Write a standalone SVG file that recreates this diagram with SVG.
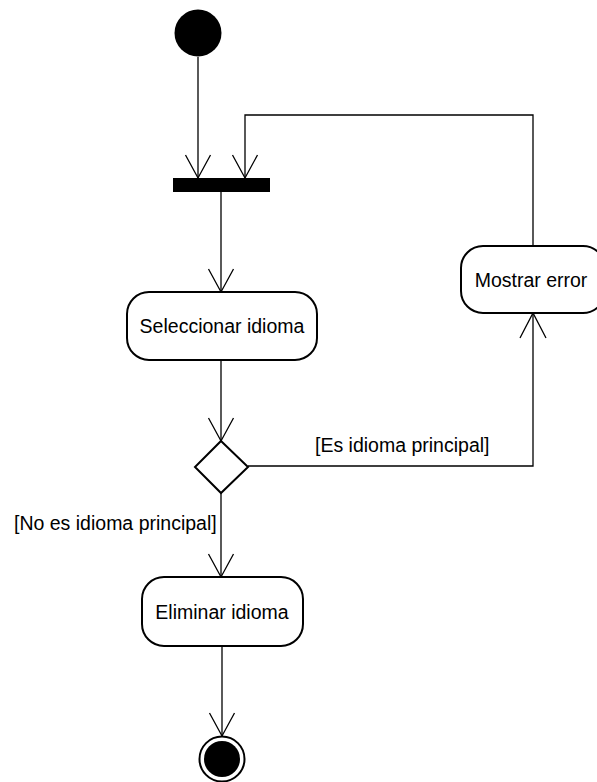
<svg xmlns="http://www.w3.org/2000/svg" width="597" height="782" viewBox="0 0 597 782">
  <defs>
    <style>
      .act { fill: #ffffff; stroke: #000000; stroke-width: 2; }
      .edge { fill: none; stroke: #000000; stroke-width: 1.3; }
      .head { fill: none; stroke: #000000; stroke-width: 1.3; }
      .lbl { font-family: "Liberation Sans", Arial, sans-serif; font-size: 19.5px; fill: #000000; }
    </style>
  </defs>
  <rect width="597" height="782" fill="#ffffff"/>

  <g id="connectors">
    <!-- start -> fork -->
    <path class="edge" d="M198,57 L198,178"/>
    <path class="head" d="M185.5,155 L198,178 L210.5,155"/>
    <!-- error loop back to fork -->
    <path class="edge" d="M533,246 L533,115 L245,115 L245,178"/>
    <path class="head" d="M232.5,155 L245,178 L257.5,155"/>
    <!-- fork -> Seleccionar idioma -->
    <path class="edge" d="M221,192 L221,292"/>
    <path class="head" d="M208.5,269 L221,292 L233.5,269"/>
    <!-- Seleccionar idioma -> decision -->
    <path class="edge" d="M221,360 L221,441"/>
    <path class="head" d="M208.5,418 L221,441 L233.5,418"/>
    <!-- decision -> Mostrar error -->
    <path class="edge" d="M248,466 L533,466 L533,313"/>
    <path class="head" d="M520,338 L533,313 L546,338"/>
    <!-- decision -> Eliminar idioma -->
    <path class="edge" d="M221,493 L221,577"/>
    <path class="head" d="M208.5,554 L221,577 L233.5,554"/>
    <!-- Eliminar idioma -> end -->
    <path class="edge" d="M222,646 L222,736"/>
    <path class="head" d="M209.5,713 L222,736 L234.5,713"/>
    <text class="lbl" x="315" y="452">[Es idioma principal]</text>
    <text class="lbl" x="14" y="530">[No es idioma principal]</text>
  </g>

  <g id="start">
    <circle cx="198" cy="33" r="23.5" fill="#000000"/>
  </g>

  <g id="fork">
    <rect x="173" y="178" width="97" height="14" fill="#000000"/>
  </g>

  <g id="seleccionar-idioma">
    <rect class="act" x="127" y="292" width="190" height="68" rx="22" ry="22"/>
    <text class="lbl" x="222" y="333" text-anchor="middle">Seleccionar idioma</text>
  </g>

  <g id="decision">
    <polygon class="act" points="221,441 248,467 221,493 195,467"/>
  </g>

  <g id="mostrar-error">
    <rect class="act" x="461" y="246" width="144" height="67" rx="22" ry="22"/>
    <text class="lbl" x="531" y="287" text-anchor="middle">Mostrar error</text>
  </g>

  <g id="eliminar-idioma">
    <rect class="act" x="142" y="577" width="161" height="69" rx="22" ry="22"/>
    <text class="lbl" x="222" y="619" text-anchor="middle">Eliminar idioma</text>
  </g>

  <g id="end">
    <circle cx="222" cy="759" r="22.5" fill="#ffffff" stroke="#000000" stroke-width="2"/>
    <circle cx="222" cy="759" r="18" fill="#000000"/>
  </g>
</svg>
